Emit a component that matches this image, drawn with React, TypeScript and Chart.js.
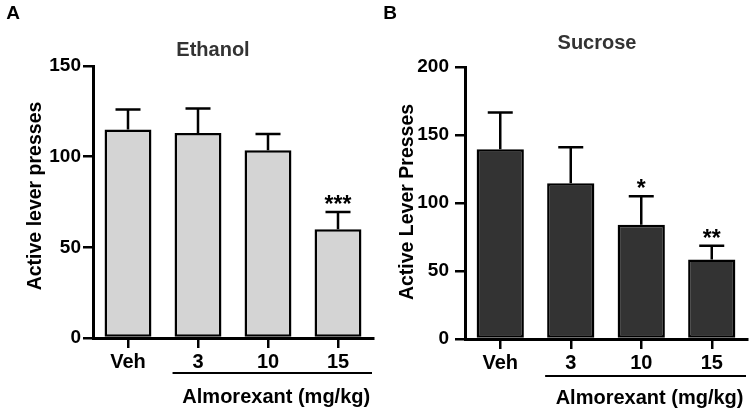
import React, { useEffect, useRef } from 'react';
import { Chart, registerables } from 'chart.js';

Chart.register(...registerables);

const CATEGORIES = ['Veh', '3', '10', '15'];

const ETHANOL_MEAN = [115, 113, 103.5, 60];
const ETHANOL_SEM = [11, 13.5, 9, 9.5];
const ETHANOL_SIG = ['', '', '', '***'];
const ETHANOL_Y_MAX = 150;

const SUCROSE_MEAN = [139.5, 114.5, 84, 58.5];
const SUCROSE_SEM = [27, 26.5, 21, 10];
const SUCROSE_SIG = ['', '', '*', '**'];
const SUCROSE_Y_MAX = 200;

const Y_STEP = 50;

const FONT = "'Liberation Sans', Arial, Helvetica, sans-serif";

type Panel = {
  letter: string;
  title: string;
  yTitle: string;
  xTitle: string;
  mean: number[];
  sem: number[];
  sig: string[];
  yMax: number;
  fill: string;
  area: { left: number; right: number; top: number; bottom: number };
  titlePos: [number, number];
  letterPos: [number, number];
  yTitlePos: [number, number];
  underlineDy: number;
  xTitleDy: number;
  tickPad: number;
};

const PANELS: Panel[] = [
  {
    letter: 'A',
    title: 'Ethanol',
    yTitle: 'Active lever presses',
    xTitle: 'Almorexant (mg/kg)',
    mean: ETHANOL_MEAN,
    sem: ETHANOL_SEM,
    sig: ETHANOL_SIG,
    yMax: ETHANOL_Y_MAX,
    fill: '#d4d4d4',
    area: { left: 93, right: 373, top: 66, bottom: 338 },
    titlePos: [213, 50],
    letterPos: [13, 14],
    yTitlePos: [36, 196],
    underlineDy: 35,
    xTitleDy: 59,
    tickPad: 2,
  },
  {
    letter: 'B',
    title: 'Sucrose',
    yTitle: 'Active Lever Presses',
    xTitle: 'Almorexant (mg/kg)',
    mean: SUCROSE_MEAN,
    sem: SUCROSE_SEM,
    sig: SUCROSE_SIG,
    yMax: SUCROSE_Y_MAX,
    fill: '#333333',
    area: { left: 88, right: 370, top: 67, bottom: 339 },
    titlePos: [220, 43],
    letterPos: [13, 14],
    yTitlePos: [31, 202],
    underlineDy: 37,
    xTitleDy: 59,
    tickPad: 6,
  },
];

const W = 377;
const H = 413;

function makeOverlay(p: Panel) {
  return {
    id: 'overlay' + p.letter,
    afterDatasetsDraw(chart: any) {
      const ctx = chart.ctx as CanvasRenderingContext2D;
      const y = chart.scales.y;
      const meta = chart.getDatasetMeta(0);
      ctx.save();
      ctx.strokeStyle = '#000';
      ctx.lineWidth = 2.5;
      meta.data.forEach((bar: any, i: number) => {
        const yt = y.getPixelForValue(p.mean[i] + p.sem[i]);
        const x = bar.x;
        ctx.beginPath();
        ctx.moveTo(x, bar.y);
        ctx.lineTo(x, yt);
        ctx.moveTo(x - 12.5, yt);
        ctx.lineTo(x + 12.5, yt);
        ctx.stroke();
        if (p.sig[i]) {
          ctx.fillStyle = '#000';
          ctx.font = `bold 23px ${FONT}`;
          ctx.textAlign = 'center';
          ctx.textBaseline = 'alphabetic';
          ctx.fillText(p.sig[i], x, yt);
        }
      });
      ctx.restore();
    },
    afterDraw(chart: any) {
      const ctx = chart.ctx as CanvasRenderingContext2D;
      const area = chart.chartArea;
      const meta = chart.getDatasetMeta(0);
      ctx.save();
      ctx.fillStyle = '#000';
      ctx.font = `bold 19px ${FONT}`;
      ctx.textAlign = 'center';
      ctx.textBaseline = 'middle';
      ctx.fillText(p.letter, p.letterPos[0], p.letterPos[1]);
      ctx.font = `bold 20px ${FONT}`;
      ctx.fillStyle = '#333';
      ctx.fillText(p.title, p.titlePos[0], p.titlePos[1]);
      ctx.fillStyle = '#000';
      ctx.font = `bold 19.5px ${FONT}`;
      ctx.save();
      ctx.translate(p.yTitlePos[0], p.yTitlePos[1]);
      ctx.rotate(-Math.PI / 2);
      ctx.fillText(p.yTitle, 0, 0);
      ctx.restore();
      const b1 = meta.data[1];
      const x1 = b1.x - b1.width / 2 - 2;
      const x2 = area.right - 1;
      const yl = area.bottom + p.underlineDy;
      ctx.strokeStyle = '#000';
      ctx.lineWidth = 2;
      ctx.beginPath();
      ctx.moveTo(x1, yl);
      ctx.lineTo(x2, yl);
      ctx.stroke();
      ctx.font = `bold 20px ${FONT}`;
      ctx.fillText(p.xTitle, (x1 + x2) / 2 + 4, area.bottom + p.xTitleDy);
      ctx.restore();
    },
  };
}

function PanelChart({ p }: { p: Panel }) {
  const ref = useRef<HTMLCanvasElement | null>(null);
  useEffect(() => {
    if (!ref.current) return;
    const chart = new Chart(ref.current, {
      type: 'bar',
      data: {
        labels: CATEGORIES,
        datasets: [
          {
            data: p.mean,
            backgroundColor: p.fill,
            borderColor: '#000',
            borderWidth: 2.5,
            borderSkipped: false,
            barPercentage: 0.67,
            categoryPercentage: 1,
          },
        ],
      },
      options: {
        responsive: false,
        animation: false,
        devicePixelRatio: 1,
        layout: {
          padding: { left: 0, right: W - p.area.right, top: p.area.top, bottom: 0 },
        },
        plugins: {
          legend: { display: false },
          tooltip: { enabled: false },
          title: { display: false },
        },
        scales: {
          x: {
            offset: true,
            afterFit: (s: any) => {
              s.height = H - p.area.bottom;
            },
            grid: {
              display: true,
              offset: false,
              drawOnChartArea: false,
              drawTicks: true,
              tickLength: 10,
              color: '#000',
              lineWidth: 2.5,
            },
            border: { display: true, color: '#000', width: 3 },
            ticks: {
              color: '#000',
              padding: 2,
              font: { family: FONT, size: 20, weight: 'bold' },
            },
          },
          y: {
            min: 0,
            max: p.yMax,
            afterFit: (s: any) => {
              s.width = p.area.left;
            },
            grid: {
              display: true,
              drawOnChartArea: false,
              drawTicks: true,
              tickLength: 10,
              color: '#000',
              lineWidth: 2.5,
            },
            border: { display: true, color: '#000', width: 3 },
            ticks: {
              stepSize: Y_STEP,
              color: '#000',
              padding: p.tickPad,
              font: { family: FONT, size: 19, weight: 'bold' },
            },
          },
        },
      } as any,
      plugins: [makeOverlay(p)],
    });
    return () => chart.destroy();
  }, [p]);
  return <canvas ref={ref} width={W} height={H} style={{ display: 'block', width: W, height: H }} />;
}

export default function App() {
  return (
    <div
      style={{
        position: 'fixed',
        left: 0,
        top: 0,
        width: 754,
        height: 413,
        background: '#fff',
        display: 'flex',
      }}
    >
      {PANELS.map((p) => (
        <PanelChart key={p.letter} p={p} />
      ))}
    </div>
  );
}
